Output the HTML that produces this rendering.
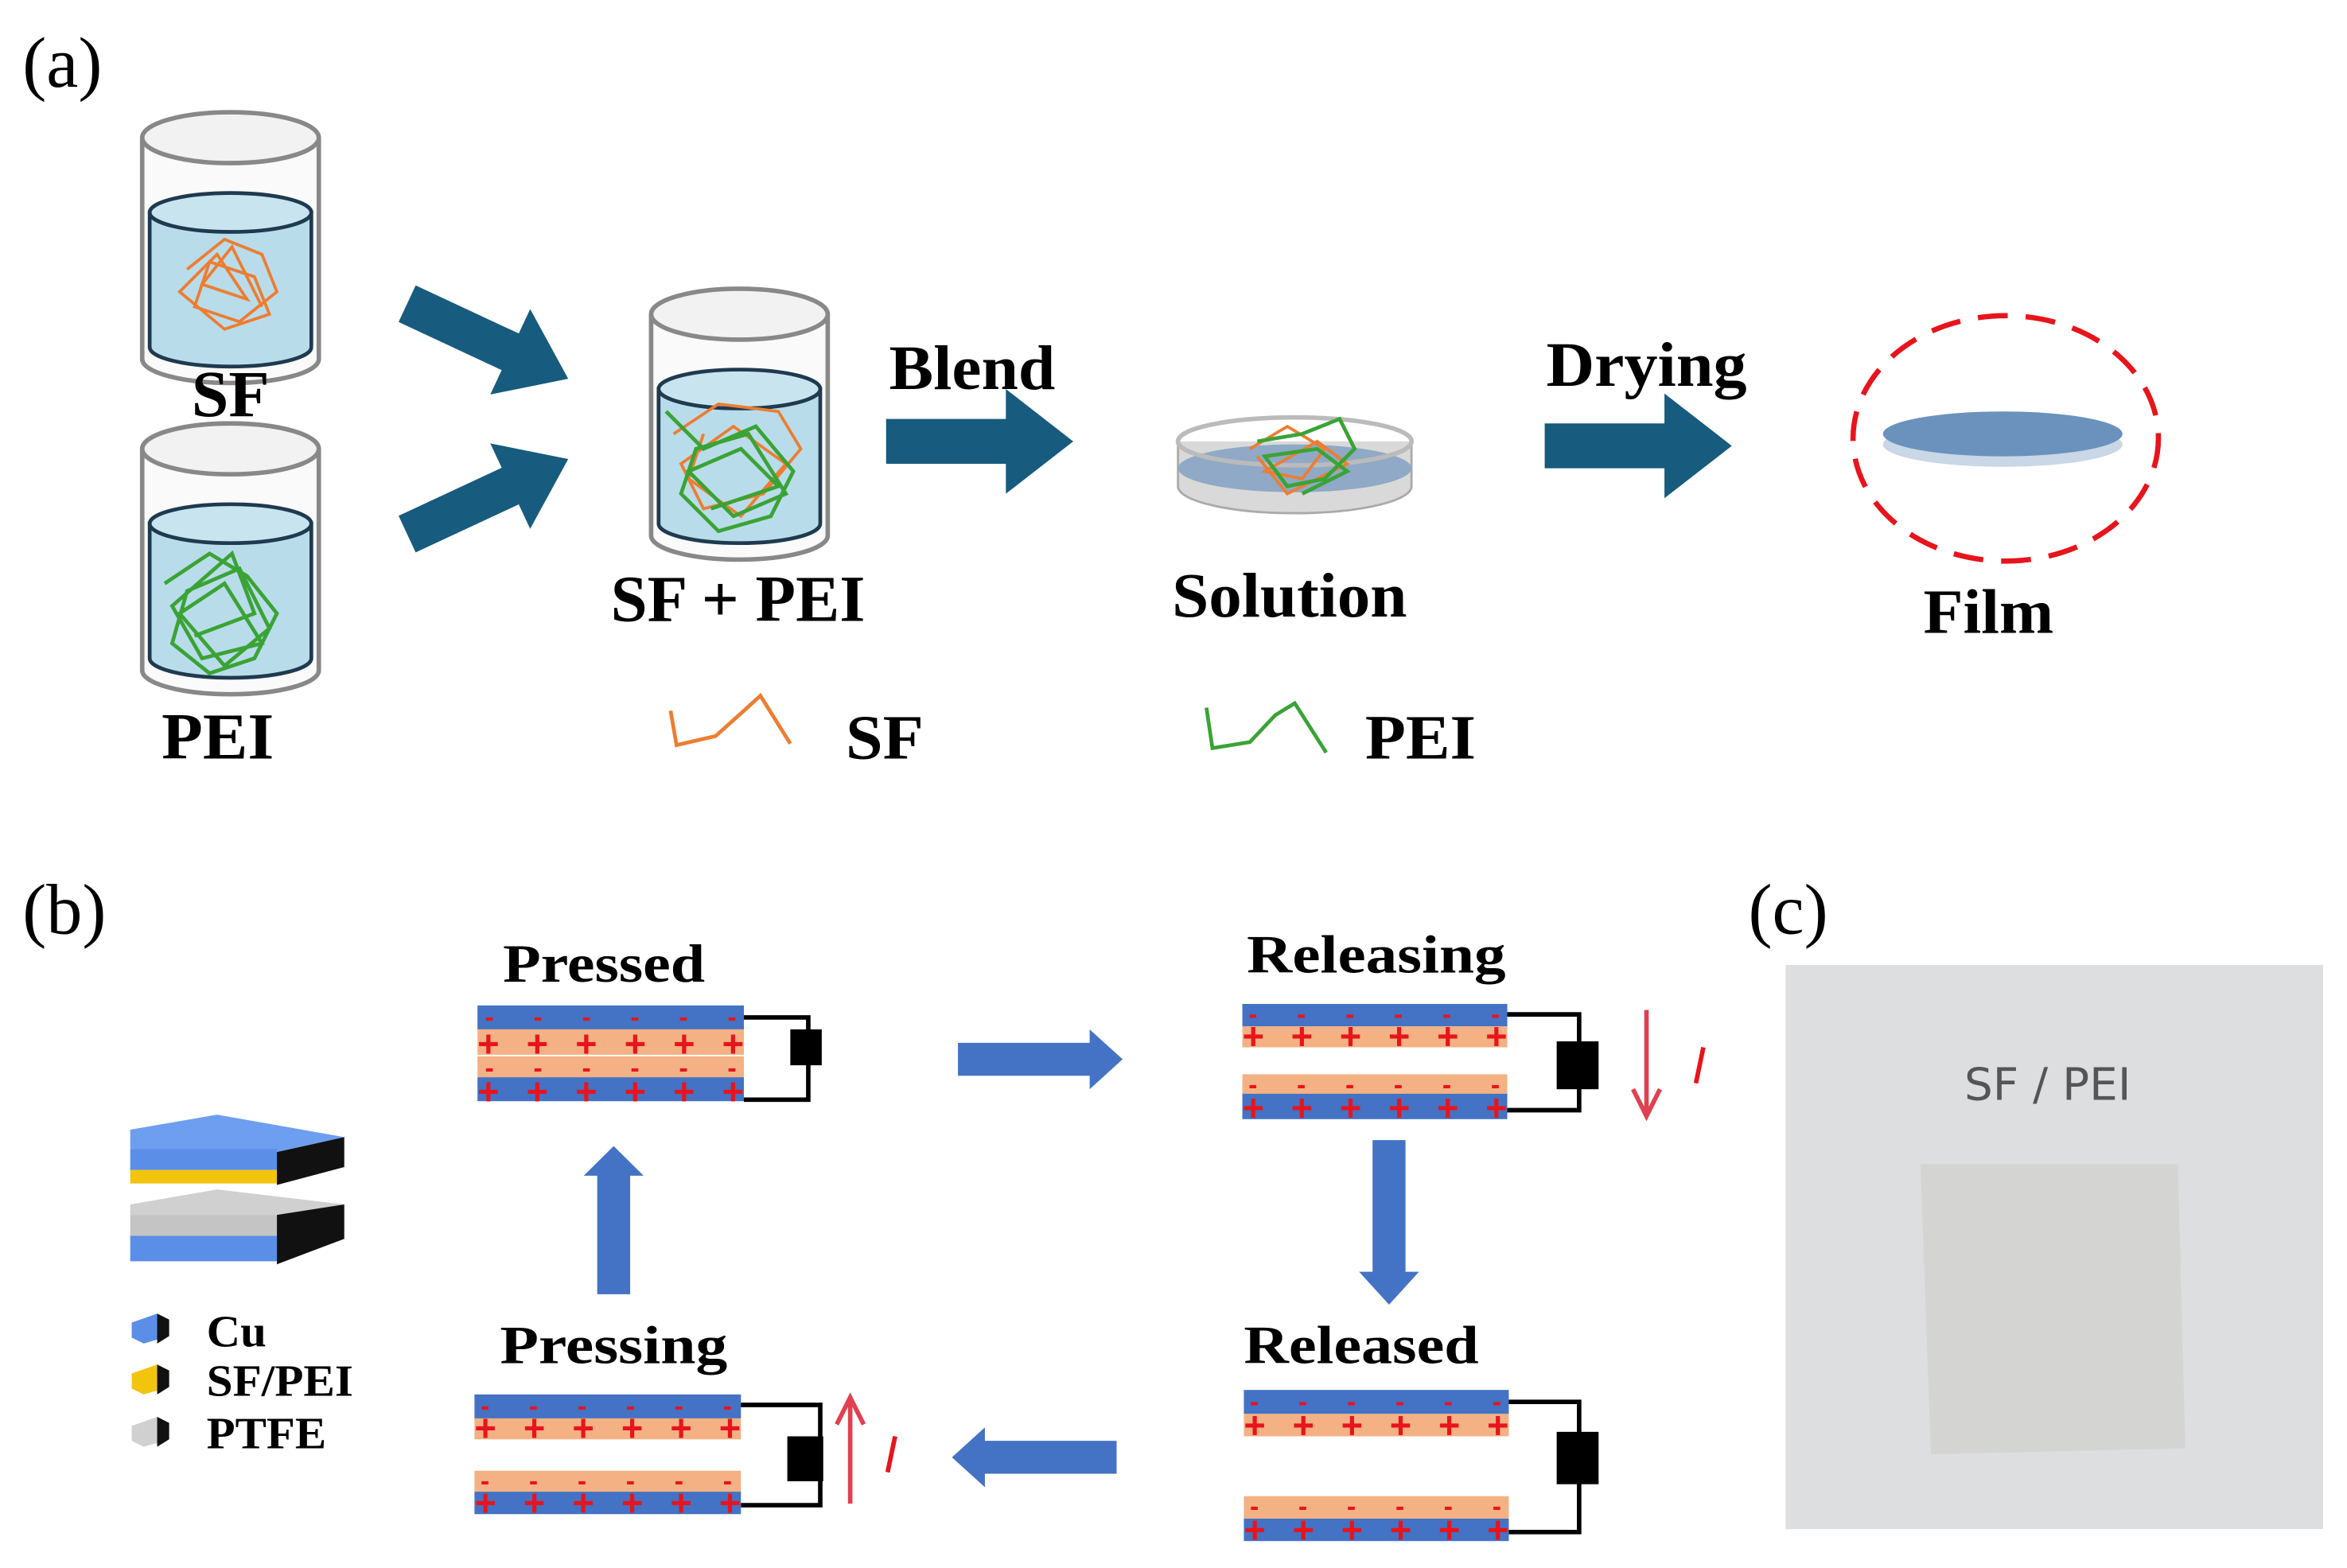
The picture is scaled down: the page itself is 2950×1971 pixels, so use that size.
<!DOCTYPE html>
<html><head><meta charset="utf-8"><style>
html,body{margin:0;padding:0;background:#fff;width:2950px;height:1971px;overflow:hidden}
svg{display:block}
text{font-family:"Liberation Serif",serif;font-weight:bold;fill:#000}
.lab{font-weight:normal;font-size:48px}
.pm{font-family:"Liberation Sans",sans-serif;font-weight:bold;fill:#e8141c}
</style></head><body>
<svg width="2950" height="1971" viewBox="0 0 1568 1048" preserveAspectRatio="none" xmlns="http://www.w3.org/2000/svg">
<defs>
<g id="beaker">
  <path d="M0 0 L0 148 A59 16 0 0 0 118 148 L118 0" fill="#fafafa" stroke="#888" stroke-width="3"/>
  <path d="M5 50 L5 140 A54 13 0 0 0 113 140 L113 50 Z" fill="#b9dcea" stroke="#1f3a4f" stroke-width="2.5"/>
  <ellipse cx="59" cy="50" rx="54" ry="13" fill="#c8e4ef" stroke="#1f3a4f" stroke-width="2.5"/>
  <ellipse cx="59" cy="0" rx="59" ry="17" fill="#f2f2f2" stroke="#888" stroke-width="3"/>
</g>
<g id="rarr"><path d="M0 -15 L80 -15 L80 -35 L125 0 L80 35 L80 15 L0 15 Z" fill="#175b7e"/></g>
<g id="barr"><path d="M0 -11 L88 -11 L88 -20 L110 0 L88 20 L88 11 L0 11 Z" fill="#4472c4"/></g>
</defs>

<text x="15" y="58" class="lab">(a)</text>
<text x="15" y="624" class="lab">(b)</text>
<text x="1168" y="624" class="lab">(c)</text>

<use href="#beaker" x="95" y="92"/>
<path d="M125 180 L150 160 L175 170 L185 195 L160 215 L130 205 L140 175 L170 185 L180 210 L150 220 L120 195 L145 170 L165 200 L135 190 L155 165 L175 205" fill="none" stroke="#ed7d31" stroke-width="2"/>
<use href="#beaker" x="95" y="300"/>
<path d="M110 390 L140 370 L165 385 L185 410 L170 440 L140 450 L115 430 L125 395 L160 380 L180 420 L150 445 L120 410 L150 390 L175 430 L135 440 L115 405 L155 370 L170 410 L130 425" fill="none" stroke="#3aa335" stroke-width="2.5"/>
<use href="#beaker" x="435" y="210"/>
<path d="M450 290 L480 270 L520 275 L535 300 L510 330 L470 340 L455 310 L490 285 L525 310 L495 345 L460 320 L470 290" fill="none" stroke="#ed7d31" stroke-width="2"/>
<path d="M445 275 L470 300 L505 285 L530 315 L515 345 L480 355 L455 330 L465 300 L500 290 L525 330 L490 345 L460 315 L495 300 L520 325 L475 340" fill="none" stroke="#3aa335" stroke-width="2.5"/>

<text x="128" y="278" font-size="44" textLength="52" lengthAdjust="spacingAndGlyphs">SF</text>
<text x="108" y="507" font-size="44" textLength="75" lengthAdjust="spacingAndGlyphs">PEI</text>
<text x="408" y="415" font-size="44" textLength="170" lengthAdjust="spacingAndGlyphs">SF + PEI</text>
<text x="594" y="260" font-size="42" textLength="111" lengthAdjust="spacingAndGlyphs">Blend</text>
<text x="783" y="412" font-size="42" textLength="157" lengthAdjust="spacingAndGlyphs">Solution</text>
<text x="1033" y="258" font-size="42" textLength="134" lengthAdjust="spacingAndGlyphs">Drying</text>
<text x="1285" y="423" font-size="42" textLength="87" lengthAdjust="spacingAndGlyphs">Film</text>

<use href="#rarr" transform="translate(272 203) rotate(25) scale(0.95 0.9)"/>
<use href="#rarr" transform="translate(272 357) rotate(-25) scale(0.95 0.9)"/>
<use href="#rarr" x="592" y="295"/>
<use href="#rarr" x="1032" y="298"/>

<path d="M787 295 L787 325 A78 18 0 0 0 943 325 L943 295" fill="#d9d9d9" stroke="#aaa" stroke-width="1.5"/>
<ellipse cx="865" cy="313" rx="78" ry="16" fill="#8fa9c6"/>
<ellipse cx="865" cy="295" rx="78" ry="16" fill="none" stroke="#bbb" stroke-width="3"/>
<path d="M835 300 L860 285 L885 300 L870 320 L845 315 L880 295 L900 310 L860 330 L840 305" fill="none" stroke="#ed7d31" stroke-width="2"/>
<path d="M840 295 L870 290 L895 280 L905 300 L885 320 L860 325 L845 305 L880 300 L900 315 L870 330" fill="none" stroke="#3aa335" stroke-width="2.5"/>

<ellipse cx="1340" cy="293" rx="102" ry="82" fill="none" stroke="#e8141c" stroke-width="3.5" stroke-dasharray="20 12"/>
<ellipse cx="1338" cy="297" rx="80" ry="15" fill="#c9d7e6"/>
<ellipse cx="1338" cy="290" rx="80" ry="15" fill="#6a92bd"/>

<polyline points="448,475 452,498 478,492 497,475 508,465 528,497" fill="none" stroke="#ed7d31" stroke-width="2.5"/>
<text x="565" y="507" font-size="42" textLength="52" lengthAdjust="spacingAndGlyphs">SF</text>
<polyline points="806,473 810,500 835,496 852,478 865,470 886,503" fill="none" stroke="#3aa335" stroke-width="2.5"/>
<text x="912" y="507" font-size="42" textLength="74" lengthAdjust="spacingAndGlyphs">PEI</text>

<text x="336" y="656" font-size="36" textLength="135" lengthAdjust="spacingAndGlyphs">Pressed</text>
<text x="833" y="650" font-size="36" textLength="173" lengthAdjust="spacingAndGlyphs">Releasing</text>
<text x="334" y="911" font-size="36" textLength="152" lengthAdjust="spacingAndGlyphs">Pressing</text>
<text x="831" y="911" font-size="36" textLength="157" lengthAdjust="spacingAndGlyphs">Released</text>

<g>
<rect x="319" y="672" width="178" height="16" fill="#4472c4"/>
<rect x="319" y="688" width="178" height="17" fill="#f4b183"/>
<rect x="319" y="706" width="178" height="14" fill="#f4b183"/>
<rect x="319" y="720" width="178" height="16" fill="#4472c4"/>
<text x="324" y="686" class="pm" font-size="18" textLength="168" lengthAdjust="spacing">- - - - - -</text>
<text x="319" y="706" class="pm" font-size="25" textLength="178" lengthAdjust="spacing">+ + + + + +</text>
<text x="324" y="720" class="pm" font-size="18" textLength="168" lengthAdjust="spacing">- - - - - -</text>
<text x="319" y="738" class="pm" font-size="25" textLength="178" lengthAdjust="spacing">+ + + + + +</text>
<path d="M497 680 L540 680 L540 735 L497 735" fill="none" stroke="#000" stroke-width="3"/>
<rect x="528" y="688" width="21" height="24" fill="#000"/>
</g>
<g>
<rect x="830" y="671" width="177" height="15" fill="#4472c4"/>
<rect x="830" y="686" width="177" height="14" fill="#f4b183"/>
<rect x="830" y="718" width="177" height="13" fill="#f4b183"/>
<rect x="830" y="731" width="177" height="17" fill="#4472c4"/>
<text x="834" y="684" class="pm" font-size="18" textLength="168" lengthAdjust="spacing">- - - - - -</text>
<text x="830" y="701" class="pm" font-size="25" textLength="177" lengthAdjust="spacing">+ + + + + +</text>
<text x="834" y="731" class="pm" font-size="18" textLength="168" lengthAdjust="spacing">- - - - - -</text>
<text x="830" y="749" class="pm" font-size="25" textLength="177" lengthAdjust="spacing">+ + + + + +</text>
<path d="M1007 678 L1055 678 L1055 742 L1007 742" fill="none" stroke="#000" stroke-width="3"/>
<rect x="1040" y="696" width="28" height="32" fill="#000"/>
<path d="M1100 675 L1100 745 M1091 728 L1100 746 L1109 728" fill="none" stroke="#e04050" stroke-width="3"/>
<path d="M1138 700 L1133 724" stroke="#e8141c" stroke-width="3"/>
</g>
<g>
<rect x="831" y="929" width="177" height="16" fill="#4472c4"/>
<rect x="831" y="945" width="177" height="15" fill="#f4b183"/>
<rect x="831" y="1000" width="177" height="15" fill="#f4b183"/>
<rect x="831" y="1015" width="177" height="15" fill="#4472c4"/>
<text x="835" y="943" class="pm" font-size="18" textLength="168" lengthAdjust="spacing">- - - - - -</text>
<text x="831" y="961" class="pm" font-size="25" textLength="177" lengthAdjust="spacing">+ + + + + +</text>
<text x="835" y="1013" class="pm" font-size="18" textLength="168" lengthAdjust="spacing">- - - - - -</text>
<text x="831" y="1031" class="pm" font-size="25" textLength="177" lengthAdjust="spacing">+ + + + + +</text>
<path d="M1008 937 L1055 937 L1055 1024 L1008 1024" fill="none" stroke="#000" stroke-width="3"/>
<rect x="1040" y="957" width="28" height="35" fill="#000"/>
</g>
<g>
<rect x="317" y="932" width="178" height="16" fill="#4472c4"/>
<rect x="317" y="948" width="178" height="14" fill="#f4b183"/>
<rect x="317" y="983" width="178" height="14" fill="#f4b183"/>
<rect x="317" y="997" width="178" height="15" fill="#4472c4"/>
<text x="321" y="946" class="pm" font-size="18" textLength="168" lengthAdjust="spacing">- - - - - -</text>
<text x="317" y="963" class="pm" font-size="25" textLength="178" lengthAdjust="spacing">+ + + + + +</text>
<text x="321" y="996" class="pm" font-size="18" textLength="168" lengthAdjust="spacing">- - - - - -</text>
<text x="317" y="1013" class="pm" font-size="25" textLength="178" lengthAdjust="spacing">+ + + + + +</text>
<path d="M495 939 L548 939 L548 1006 L495 1006" fill="none" stroke="#000" stroke-width="3"/>
<rect x="526" y="960" width="24" height="30" fill="#000"/>
<path d="M568 1005 L568 935 M559 952 L568 934 L577 952" fill="none" stroke="#e04050" stroke-width="3"/>
<path d="M598 960 L593 984" stroke="#e8141c" stroke-width="3"/>
</g>

<use href="#barr" x="640" y="708"/>
<use href="#barr" transform="translate(746 974) rotate(180)"/>
<use href="#barr" transform="translate(928 762) rotate(90)"/>
<use href="#barr" transform="translate(410 865) rotate(-90) scale(0.9 1)"/>

<!-- stack icon -->
<polygon points="87,755 145,745 230,760 185,770 87,768" fill="#6e9ef0"/>
<rect x="87" y="768" width="98" height="14" fill="#5b8ee6"/>
<rect x="87" y="782" width="98" height="9" fill="#f2c40e"/>
<polygon points="185,770 230,760 230,780 185,792" fill="#111"/>
<polygon points="87,805 145,795 230,805 185,812 87,812" fill="#d0d0d0"/>
<rect x="87" y="812" width="98" height="14" fill="#c4c4c4"/>
<rect x="87" y="826" width="98" height="17" fill="#5b8ee6"/>
<polygon points="185,812 230,805 230,828 185,845" fill="#111"/>

<polygon points="88,884 105,878 113,882 113,893 96,898 88,894" fill="#5b8ee6"/><polygon points="105,878 113,882 113,893 105,898" fill="#111"/>
<polygon points="88,918 105,912 113,916 113,927 96,932 88,928" fill="#f2c40e"/><polygon points="105,912 113,916 113,927 105,932" fill="#111"/>
<polygon points="88,953 105,947 113,951 113,962 96,967 88,963" fill="#d0d0d0"/><polygon points="105,947 113,951 113,962 105,967" fill="#111"/>
<text x="138" y="900" font-size="30" textLength="40" lengthAdjust="spacingAndGlyphs">Cu</text>
<text x="138" y="933" font-size="30" textLength="98" lengthAdjust="spacingAndGlyphs">SF/PEI</text>
<text x="138" y="968" font-size="30" textLength="80" lengthAdjust="spacingAndGlyphs">PTFE</text>

<rect x="1193" y="645" width="359" height="377" fill="#dcdedf"/>
<polygon points="1283,778 1455,778 1460,968 1290,972" fill="#d4d5d3"/>
<text x="1368" y="735" font-size="30" text-anchor="middle" style="fill:#555;font-family:'DejaVu Sans',sans-serif;font-weight:normal">SF / PEI</text>
</svg>
</body></html>
